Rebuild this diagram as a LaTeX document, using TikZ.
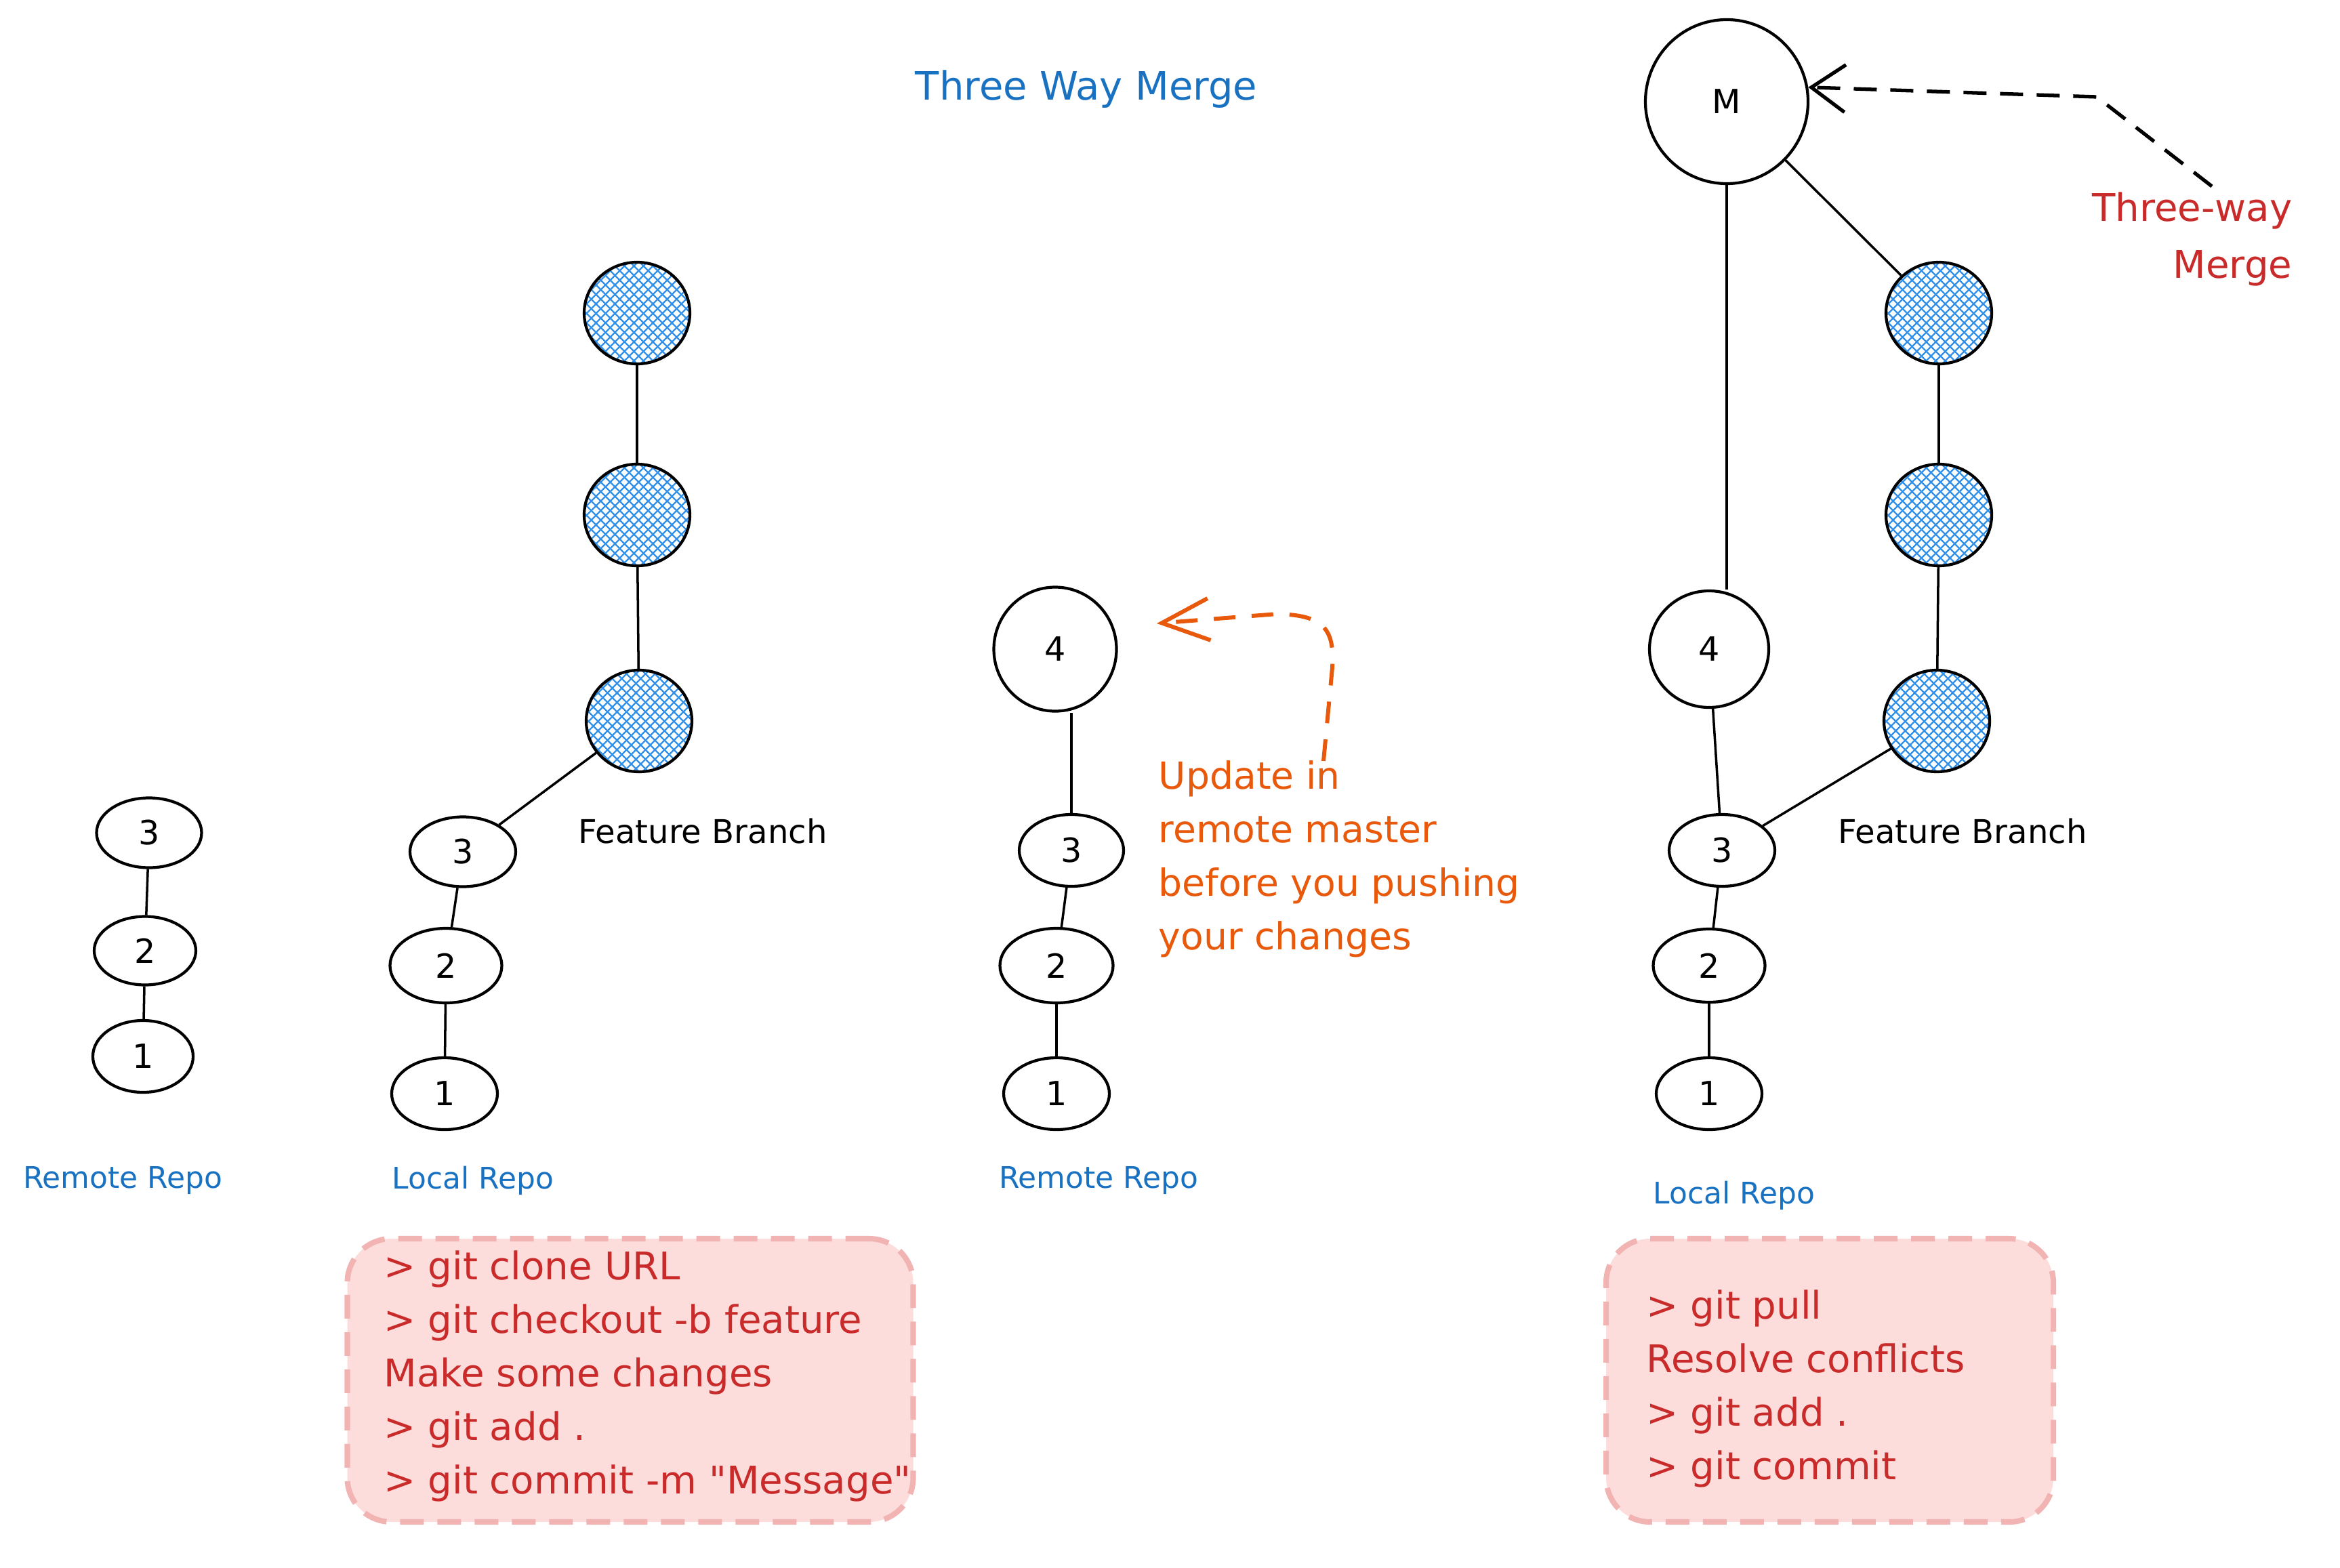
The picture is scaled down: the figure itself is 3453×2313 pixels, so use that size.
\documentclass[tikz,border=0pt]{standalone}
\usepackage{fontspec}
\setmainfont{DejaVu Sans}[Ligatures=TeXOff]
\usetikzlibrary{shapes.geometric,arrows.meta,calc}
\definecolor{txtblue}{HTML}{1971C2}
\definecolor{txtred}{HTML}{C92A2A}
\definecolor{txtorange}{HTML}{E8590C}
\definecolor{hatchblue}{HTML}{2F8FEA}
\definecolor{boxfill}{HTML}{FDDCDC}
\definecolor{boxline}{HTML}{F2B3B3}
\newcommand{\ftitle}{\fontsize{16.4}{20}\selectfont}
\newcommand{\flabel}{\fontsize{12.5}{15}\selectfont}
\newcommand{\fcmd}{\fontsize{16}{22.5}\selectfont}
\newcommand{\fnote}{\fontsize{15.7}{22.5}\selectfont}
\newcommand{\fmerge}{\fontsize{16}{23.9}\selectfont}
\newcommand{\fbranch}{\fontsize{13.7}{16}\selectfont}
\newcommand{\fdigit}{\fontsize{14}{16}\selectfont}
\begin{document}
\begin{tikzpicture}[x=0.1mm,y=-0.1mm,
  commit/.style={ellipse, draw=black, line width=1.2pt, inner sep=0pt, fill=white, font=\fdigit},
  small/.style={minimum width=15.6mm, minimum height=10.6mm},
  feat/.style={commit, minimum width=15.6mm, minimum height=15mm,
    path picture={
      \begin{scope}[shift={(path picture bounding box.center)}]
        \foreach \k in {-11,...,11} {
          \draw[hatchblue, line width=0.65pt] (\k*14-110,-105) -- (\k*14+110,115);
          \draw[hatchblue, line width=0.65pt] (\k*14+110,-100) -- (\k*14-110,120);
        }
      \end{scope}}},
  link/.style={draw=black, line width=1pt},
  bluelabel/.style={text=txtblue, font=\flabel, inner sep=0pt},
  branchlabel/.style={text=black, font=\fbranch, inner sep=0pt},
  cmdbox/.style={draw=boxline, fill=boxfill, line width=2.3pt, rounded corners=6.5mm, dash pattern=on 3.5mm off 2mm},
  cmdtext/.style={text=txtred, font=\fcmd, align=left, inner sep=0pt, anchor=north west}
]
\useasboundingbox (0,0) rectangle (3453,2313);

% title
\node[text=txtblue, font=\ftitle, inner sep=0pt] (title) at (1603,132) {Three Way Merge};

% ---------- column 1: remote repo ----------
\node[commit, minimum width=15.5mm, minimum height=10.3mm] (a3) at (220,1229) {3};
\node[commit, minimum width=15mm, minimum height=10.1mm] (a2) at (214,1403) {2};
\node[commit, minimum width=14.8mm, minimum height=10.6mm] (a1) at (211,1559) {1};
\draw[link] (a3) -- (a2);
\draw[link] (a2) -- (a1);
\node[bluelabel] (la) at (181,1742) {Remote Repo};

% ---------- column 2: local repo ----------
\node[commit, minimum width=15.6mm, minimum height=10.3mm] (b3) at (683,1257) {3};
\node[commit, minimum width=16.5mm, minimum height=11mm] (b2) at (658,1425) {2};
\node[commit, small] (b1) at (656,1614) {1};
\node[feat] (bf1) at (940,462) {};
\node[feat] (bf2) at (940,760) {};
\node[feat] (bf3) at (943,1064) {};
\draw[link] (b3) -- (b2);
\draw[link] (b2) -- (b1);
\draw[link] (b3) -- (bf3);
\draw[link] (bf3) -- (bf2);
\draw[link] (bf2) -- (bf1);
\node[branchlabel] (fb1) at (1037,1227) {Feature Branch};
\node[bluelabel] (lb) at (698,1742) {Local Repo};

\node[cmdbox, minimum width=83.5mm, minimum height=41.8mm] (box1) at (930,2037) {};
\node[cmdtext] (cmd1) at (566,1845) {> git clone URL\\> git checkout -b feature\\Make some changes\\> git add .\\> git commit -m "Message"};

% ---------- column 3: remote repo updated ----------
\node[commit, minimum width=18.1mm, minimum height=18.3mm] (c4) at (1557,958) {4};
\node[commit, minimum width=15.4mm, minimum height=10.6mm] (c3) at (1581,1255) {3};
\node[commit, minimum width=16.7mm, minimum height=11mm] (c2) at (1559,1425) {2};
\node[commit, small] (c1) at (1559,1614) {1};
\draw[link] (c3.north) -- (c3.north |- c4.south);
\draw[link] (c3) -- (c2);
\draw[link] (c2) -- (c1);
\node[bluelabel] (lc) at (1621,1742) {Remote Repo};

\coordinate (ostart) at (1953,1123);
\coordinate (otip) at (1707,920);
\draw[txtorange, line width=1.7pt, dash pattern=on 3.2mm off 2.4mm,
      -{Straight Barb[length=7mm,width=6.2mm,line width=1.7pt]}]
  (ostart) -- (1966,985) .. controls (1970,925) and (1950,908) .. (1885,906) -- (otip);
\node[text=txtorange, font=\fnote, align=left, inner sep=0pt, anchor=north west] (note) at (1709,1122)
  {Update in\\remote master\\before you pushing\\your changes};

% ---------- column 4: local repo merged ----------
\node[commit, minimum width=24mm, minimum height=24.2mm] (dM) at (2548,150) {M};
\node[commit, minimum width=17.6mm, minimum height=17.2mm] (d4) at (2522,958) {4};
\node[commit, small] (d3) at (2541,1255) {3};
\node[commit, minimum width=16.5mm, minimum height=10.8mm] (d2) at (2522,1425) {2};
\node[commit, small] (d1) at (2522,1614) {1};
\node[feat] (df1) at (2861,462) {};
\node[feat] (df2) at (2861,760) {};
\node[feat] (df3) at (2858,1064) {};
\draw[link] (dM.south) -- (dM.south |- d4.north);
\draw[link] (d4) -- (d3);
\draw[link] (d3) -- (d2);
\draw[link] (d2) -- (d1);
\draw[link] (dM) -- (df1);
\draw[link] (df1) -- (df2);
\draw[link] (df2) -- (df3);
\draw[link] (d3) -- (df3);
\node[branchlabel] (fb2) at (2896,1227) {Feature Branch};
\node[bluelabel] (ld) at (2559,1764) {Local Repo};

\node[cmdbox, minimum width=66mm, minimum height=41.8mm] (box2) at (2700,2037) {};
\node[cmdtext] (cmd2) at (2429,1903) {> git pull\\Resolve conflicts\\> git add .\\> git commit};

\coordinate (mstart) at (3264,275);
\draw[black, line width=1.5pt, dash pattern=on 3.4mm off 2mm,
      -{Straight Barb[length=5mm,width=7mm,line width=1.5pt]}]
  (mstart) -- (3094,143) -- (dM.10);
\node[text=txtred, font=\fmerge, align=right, inner sep=0pt, anchor=north east] (twm) at (3383,283)
  {Three-way\\Merge};
\end{tikzpicture}
\end{document}
